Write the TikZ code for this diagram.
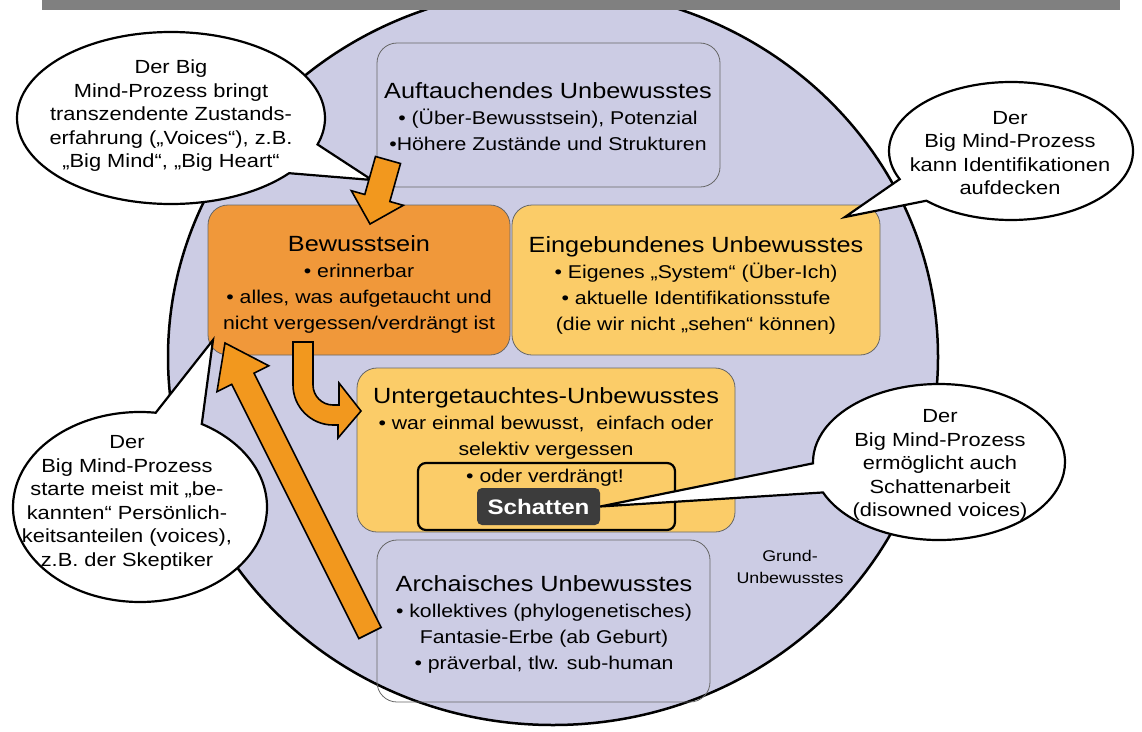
\documentclass[tikz,border=0pt]{standalone}
\usepackage{fontspec}
\setmainfont[FakeStretch=1.15]{Liberation Sans}
\usetikzlibrary{calc, shapes.callouts}

\definecolor{lavender}{RGB}{204,204,228}
\definecolor{deepOrange}{RGB}{240,152,58}
\definecolor{paleOrange}{RGB}{251,204,104}
\definecolor{arrowOrange}{RGB}{242,152,30}
\definecolor{barGray}{RGB}{128,128,128}
\definecolor{shadowGray}{RGB}{60,60,60}

\newcommand{\titleFont}{\fontsize{22}{26}\selectfont}
\newcommand{\itemFont}{\fontsize{18.5}{26}\selectfont}
\newcommand{\bubbleFont}{\fontsize{19}{23.5}\selectfont}

% block arrow: tail, tip, half shaft, half head, head length
\newcommand{\blockArrow}[5]{
	\coordinate (arrowBase) at ($(#2)!#5!(#1)$);
	\draw[blockArrow] ($(#1)!#3!90:(#2)$) -- ($(arrowBase)!#3!90:(#2)$) -- ($(arrowBase)!#4!90:(#2)$)
		-- (#2) -- ($(arrowBase)!#4!-90:(#2)$) -- ($(arrowBase)!#3!-90:(#2)$) -- ($(#1)!#3!-90:(#2)$) -- cycle;
}

\begin{document}
\begin{tikzpicture}[x=1pt, y=-1pt,
		layer/.style={draw=black!60, line width=0.8pt, rounded corners=20pt},
		layerText/.style={align=center, inner sep=0pt, font=\itemFont},
		bubble/.style={ellipse callout, draw=black, line width=2.2pt, fill=white, inner sep=0pt, callout pointer arc=22},
		bubbleText/.style={align=center, inner sep=0pt, font=\bubbleFont},
		blockArrow/.style={fill=arrowOrange, draw=black, line width=1.6pt, line join=miter}]
	
	\useasboundingbox (0,0) rectangle (1142,731);
	\clip (0,0) rectangle (1142,731);
	
	\draw[fill=lavender, line width=2.5pt] (553,357) ellipse [x radius=385, y radius=368];
	
	\begin{scope}
		\node[layer, minimum width=343pt, minimum height=144pt] (auftauch) at (548.5,115) {};
		\node[layer, fill=deepOrange, minimum width=302pt, minimum height=150pt] (bewusst) at (359,280) {};
		\node[layer, fill=paleOrange, minimum width=368pt, minimum height=150pt] (eingeb) at (696,280) {};
		\node[layer, fill=paleOrange, minimum width=378pt, minimum height=164pt] (unterg) at (546,450) {};
		\node[layer, minimum width=333pt, minimum height=162pt] (archaisch) at (543.5,621) {};
		\node[draw=black, line width=2.2pt, rounded corners=8pt, minimum width=257pt, minimum height=67pt] (verdr) at (546.5,496.5) {};
		\node[fill=shadowGray, rounded corners=5pt, minimum width=123pt, minimum height=37pt, text=white, font=\bfseries\fontsize{21}{24}\selectfont] (schatten) at (538.5,506.5) {Schatten};
	\end{scope}
	
	\node[layerText] (auftauchText) at (548,116.5) {{\titleFont Auftauchendes Unbewusstes}\\ • (Über-Bewusstsein), Potenzial\\ •Höhere Zustände und Strukturen};
	\node[layerText] (bewusstText) at (359,284) {{\titleFont Bewusstsein}\\ • erinnerbar\\ • alles, was aufgetaucht und\\ nicht vergessen/verdrängt ist};
	\node[layerText] (eingebText) at (696,285) {{\titleFont Eingebundenes Unbewusstes}\\ • Eigenes „System“ (Über-Ich)\\ • aktuelle Identifikationsstufe\\ (die wir nicht „sehen“ können)};
	\node[layerText] (untergText) at (546,423) {{\titleFont Untergetauchtes-Unbewusstes}\\ • war einmal bewusst,\ \ einfach oder\\ selektiv vergessen};
	\node[layerText] (verdrText) at (545,478) {• oder verdrängt!};
	\node[layerText] (archaischText) at (544,624) {{\titleFont Archaisches Unbewusstes}\\ • kollektives (phylogenetisches)\\ Fantasie-Erbe (ab Geburt)\\ • präverbal, tlw. sub-human};
	\node[align=center, inner sep=0pt, font=\fontsize{15.5}{22}\selectfont] (grundText) at (790,567) {Grund-\\Unbewusstes};
	
	\node[bubble, minimum width=308pt, minimum height=172pt, callout absolute pointer={(372,180)}] (bubA) at (171,118) {};
	\node[bubbleText] (bubAText) at (171,116) {Der Big\\ Mind-Prozess bringt\\ transzendente Zustands-\\ erfahrung („Voices“), z.B.\\ „Big Mind“, „Big Heart“};
	\node[bubble, minimum width=244pt, minimum height=138pt, callout absolute pointer={(845,217)}] (bubB) at (1011,151) {};
	\node[bubbleText] (bubBText) at (1010,153) {Der\\ Big Mind-Prozess\\ kann Identifikationen\\ aufdecken};
	\node[bubble, minimum width=254pt, minimum height=190pt, callout absolute pointer={(213,340)}] (bubC) at (140,507) {};
	\node[bubbleText] (bubCText) at (127,503) {Der\\ Big Mind-Prozess\\ starte meist mit „be-\\ kannten“ Persönlich-\\ keitsanteilen (voices),\\ z.B. der Skeptiker};
	\node[bubble, minimum width=252pt, minimum height=156pt, callout absolute pointer={(schatten.east)}] (bubD) at (939,462) {};
	\node[bubbleText] (bubDText) at (940,465) {Der\\ Big Mind-Prozess\\ ermöglicht auch\\ Schattenarbeit\\ (disowned voices)};
	
	\coordinate (inTail) at (388,160);
	\coordinate (inTip) at (370,224);
	\blockArrow{inTail}{inTip}{13pt}{27pt}{27pt}
	
	\coordinate (upTail) at (370,633);
	\coordinate (upTip) at (225,343);
	\blockArrow{upTail}{upTip}{12.5pt}{29pt}{40pt}
	
	\draw[blockArrow] (293,342) -- (293,385) .. controls (293,407) and (311,425) .. (333,425) -- (338,425) -- (338,438)
		-- (361,411) -- (339,383) -- (339,405) -- (333,405) .. controls (322,405) and (313,396) .. (313,385) -- (313,342) -- cycle;
	
	\fill[barGray] (42,0) rectangle (1120,10);
\end{tikzpicture}
\end{document}
